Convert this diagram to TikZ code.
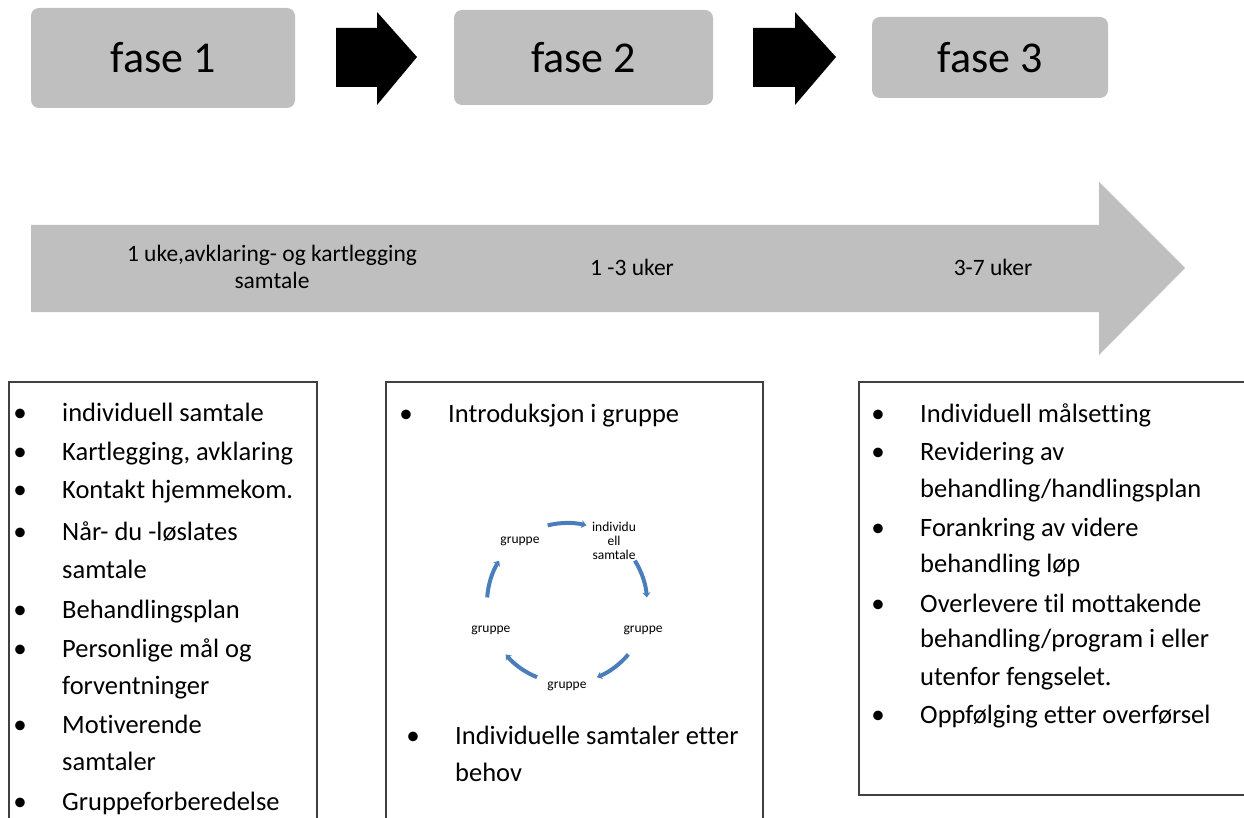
\documentclass[tikz,border=0pt]{standalone}
\usepackage{fontspec}
\setmainfont{Carlito}[RawFeature={-liga;-clig;-calt;-dlig}]
\usetikzlibrary{arrows.meta}
\definecolor{fasegray}{HTML}{BFBFBF}
\definecolor{cycleblue}{HTML}{4A7EBB}
\definecolor{framegray}{HTML}{404040}
\tikzset{
	fasebox/.style={fill=fasegray,rounded corners=8pt,inner sep=0pt,font=\fontsize{44}{48}\selectfont},
	item/.style={anchor=base west,inner sep=0pt,font=\fontsize{26.5}{30}\selectfont},
	dot/.style={anchor=base,inner sep=0pt,font=\fontsize{27}{30}\selectfont},
	frame/.style={draw=framegray,line width=1.5pt},
	uker/.style={align=center,inner sep=0pt,font=\fontsize{23.5}{27}\selectfont},
	cyc/.style={align=center,inner sep=0pt,font=\fontsize{13.5}{14}\selectfont},
	cycarrow/.style={cycleblue,line width=4pt,-{Stealth[length=5pt,width=8pt]}},
}
\begin{document}
\begin{tikzpicture}[x=1pt,y=-1pt]
	\useasboundingbox (0,0) rectangle (1244,818);
	\clip (0,0) rectangle (1244,818);
	% faser
	\node[fasebox,minimum width=264pt,minimum height=100pt] (f1) at (163,58) {fase 1};
	\node[fasebox,minimum width=259pt,minimum height=95pt] (f2) at (583.5,57.5) {fase 2};
	\node[fasebox,minimum width=236pt,minimum height=81pt] (f3) at (990,57.5) {fase 3};
	\fill (336,28) -- (377,28) -- (377,12) -- (417,57) -- (377,105) -- (377,87) -- (336,87) -- cycle;
	\fill (753,28) -- (795,28) -- (795,12) -- (836,57) -- (795,105) -- (795,87) -- (753,87) -- cycle;
	% tidslinje
	\fill[fasegray] (31,225) -- (1099,225) -- (1099,182) -- (1185,268) -- (1099,355) -- (1099,312) -- (31,312) -- cycle;
	\node[uker] (u1) at (272,267) {1 uke,avklaring- og kartlegging\\samtale};
	\node[uker] (u2) at (632,267) {1 -3 uker};
	\node[uker] (u3) at (993,267) {3-7 uker};
	% bokser
	\draw[frame] (9,830) -- (9,382) -- (317,382) -- (317,830);
	\draw[frame] (386,830) -- (386,382) -- (763,382) -- (763,830);
	\draw[frame] (1250,795) -- (859,795) -- (859,382) -- (1250,382);
	\foreach \y/\t in {421/individuell samtale,460/{Kartlegging, avklaring},498/Kontakt hjemmekom.,540/Når- du -løslates,618/Behandlingsplan,657/Personlige mål og,733/Motiverende,810/Gruppeforberedelse}
	{
		\node[dot] (lb\y) at (20,\y) {•};
		\node[item] (l\y) at (62,\y) {\t};
	}
	\foreach \y/\t in {578/samtale,694/forventninger,770/samtaler}
		\node[item] (l\y) at (62,\y) {\t};
	\node[dot] (mb1) at (406,422) {•};
	\node[item] (m1) at (448,422) {Introduksjon i gruppe};
	\node[dot] (mb2) at (413,744) {•};
	\node[item] (m2) at (455,744) {Individuelle samtaler etter};
	\node[item] (m3) at (455,781) {behov};
	\foreach \y/\t in {422/Individuell målsetting,460/Revidering av,536/Forankring av videre,612/Overlevere til mottakende,723/Oppfølging etter overførsel}
	{
		\node[dot] (rb\y) at (878,\y) {•};
		\node[item] (r\y) at (920,\y) {\t};
	}
	\foreach \y/\t in {497/{behandling/handlingsplan},572/behandling løp,647/{behandling/program i eller},685/utenfor fengselet.}
		\node[item] (r\y) at (920,\y) {\t};
	% syklus
	\foreach \a/\t [count=\i] in {-54/{individu\\ell\\samtale},18/gruppe,90/gruppe,-198/gruppe,-126/gruppe}
		\node[cyc] (c\i) at ([shift={(\a:80)}]567,606) {\t};
	\foreach \a in {-90,-18,54,126,198}
		\draw[cycarrow] ([shift={(\a-14:80)}]567,603) arc[start angle=\a-14,end angle=\a+14,radius=80];
\end{tikzpicture}
\end{document}
